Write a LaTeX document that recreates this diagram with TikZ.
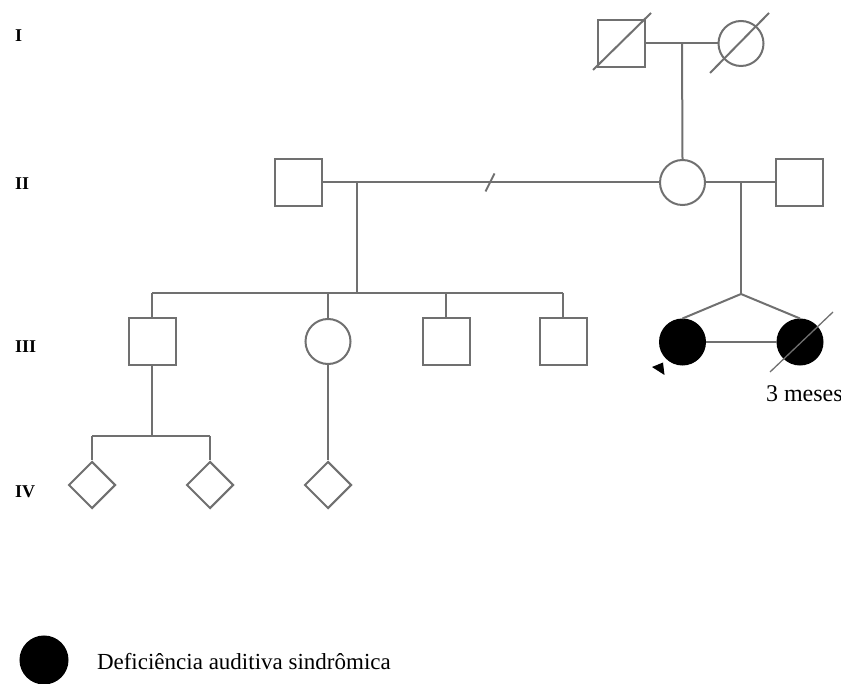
\documentclass[tikz,border=0pt]{standalone}
\usepackage{fontspec}
\setmainfont{Liberation Serif}
\usetikzlibrary{shapes.geometric}
\definecolor{pedline}{RGB}{112,112,112}
\begin{document}
\begin{tikzpicture}[x=1pt,y=-1pt,
  color=pedline, line width=2pt,
  male/.style={draw=pedline, line width=2pt, rectangle, minimum size=47pt, inner sep=0pt, fill=white},
  female/.style={draw=pedline, line width=2pt, circle, minimum size=45pt, inner sep=0pt, fill=white},
  unknown/.style={draw=pedline, line width=2pt, diamond, aspect=1, minimum size=47pt, inner sep=0pt, fill=white},
  affected/.style={female, draw=black, fill=black},
  gen/.style={text=black, font=\fontsize{18pt}{18pt}\selectfont\bfseries, anchor=base west, inner sep=0pt},
  dead/.style={draw=pedline, line width=2pt},
]
\useasboundingbox (0,0) rectangle (841,684);

% generation labels
\node[gen] (gI)   at (14,42)  {I};
\node[gen] (gII)  at (14,190) {II};
\node[gen] (gIII) at (14,353) {III};
\node[gen] (gIV)  at (14,497) {IV};

% generation I
\node[male]   (i1) at (621.5,43.5) {};
\node[female] (i2) at (741,43.5) {};
\draw[dead] (593,70) -- (651,13);
\draw[dead] (710,73) -- (769,13);

% generation II
\node[male]   (ii1) at (298.5,182.5) {};
\node[female] (ii2) at (682.5,182.5) {};
\node[male]   (ii3) at (799.5,182.5) {};

% generation III
\node[male]     (iii1) at (152,341.5) {};
\node[female]   (iii2) at (328,341.5) {};
\node[male]     (iii3) at (446,341.5) {};
\node[male]     (iii4) at (563,341.5) {};
\node[affected] (iii5) at (682.5,342) {};
\node[affected] (iii6) at (800,342) {};

% generation IV
\node[unknown] (iv1) at (92,485) {};
\node[unknown] (iv2) at (210,485) {};
\node[unknown] (iv3) at (328,485) {};

% couples and descents
\coordinate (c1) at (682,43.5);
\draw (i1.east) -- (i2.west);
\draw (c1) -- (ii2.north);

\coordinate (c2) at (357,182.5);
\coordinate (brk) at (490,182.5);
\draw (ii1.east) -- (ii2.west);
\draw ([shift={(-4.5,9)}]brk) -- ([shift={(4.5,-9)}]brk);
\coordinate (s2) at (357,293);
\draw (c2) -- (s2);
\coordinate (s2a) at (152,293);
\coordinate (s2b) at (563,293);
\draw (s2a) -- (s2b);
\draw (s2a) -- (iii1.north);
\draw (328,293) -- (iii2.north);
\draw (446,293) -- (iii3.north);
\draw (s2b) -- (iii4.north);

\coordinate (c3) at (741,182.5);
\draw (ii2.east) -- (ii3.west);
\coordinate (tw) at (741,294);
\draw (c3) -- (tw);
\draw (tw) -- (iii5.north);
\draw (tw) -- (iii6.north);
\draw (iii5.east) -- (iii6.west);

% deceased twin and proband arrow
\draw[line width=1.3pt] (770,372) -- (833,312);
\fill[black] (652,367) -- (663,362.5) -- (664.5,375) -- cycle;
\node[text=black, font=\fontsize{24pt}{24pt}\selectfont, anchor=base west, inner sep=0pt] (age) at (765,402) {3 meses};

% generation IV descents
\coordinate (s3) at (152,436);
\draw (iii1.south) -- (s3);
\coordinate (s3a) at (92,436);
\coordinate (s3b) at (210,436);
\draw (s3a) -- (s3b);
\draw (s3a) -- (iv1.north);
\draw (s3b) -- (iv2.north);
\draw (iii2.south) -- (iv3.north);

% legend
\node[affected, minimum size=47pt] (key) at (44,660) {};
\node[text=black, font=\fontsize{23pt}{23pt}\selectfont, anchor=base west, inner sep=0pt] (keytext) at (96,669) {Deficiência auditiva sindrômica};
\end{tikzpicture}
\end{document}
